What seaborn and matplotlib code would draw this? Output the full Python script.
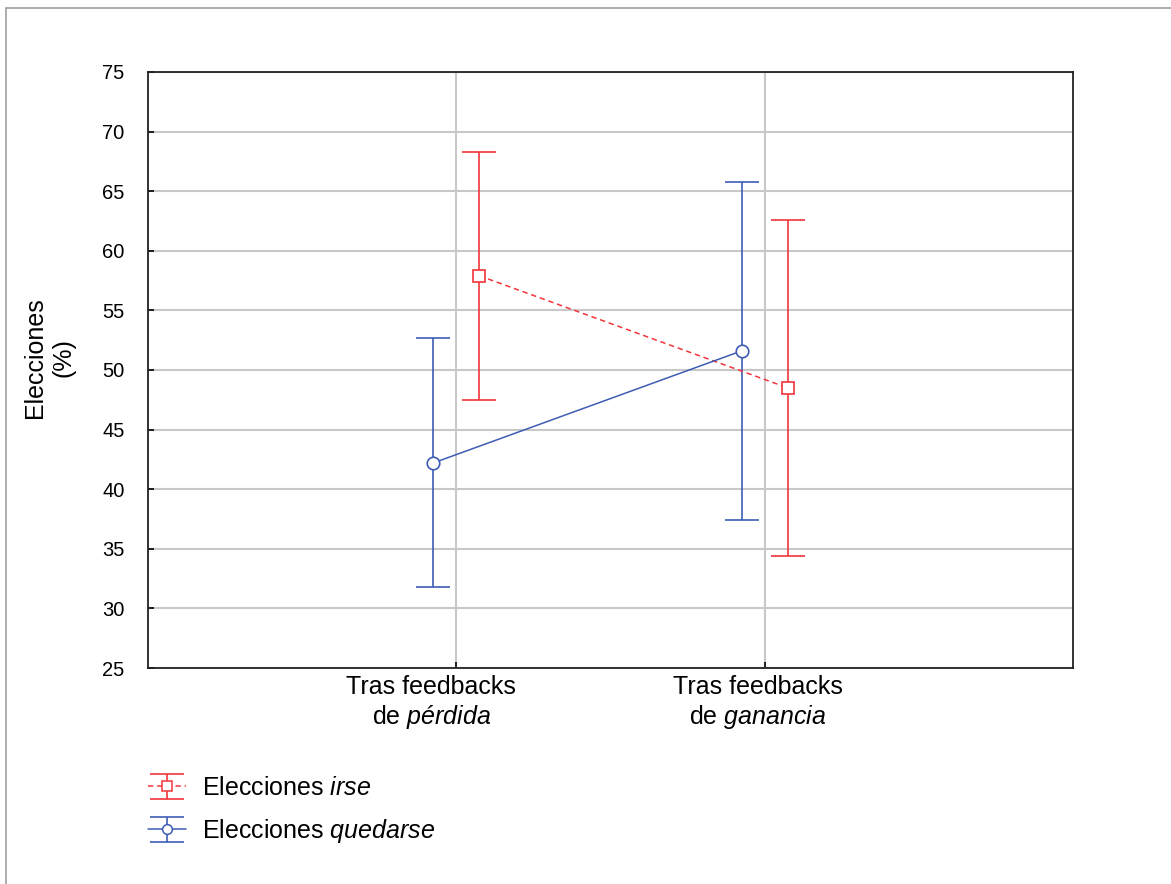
import matplotlib
matplotlib.use("Agg")
import matplotlib.pyplot as plt
import matplotlib.transforms as mtransforms
import seaborn as sns
import numpy as np
from matplotlib.lines import Line2D
from matplotlib.legend_handler import HandlerTuple

# ---- data ----
categories = ["Tras feedbacks\nde $\\mathit{pérdida}$", "Tras feedbacks\nde $\\mathit{ganancia}$"]
series_labels = ["Elecciones $\\mathit{irse}$", "Elecciones $\\mathit{quedarse}$"]
irse_mean = [57.9, 48.5]
irse_low = [47.5, 34.4]
irse_high = [68.3, 62.6]
quedarse_mean = [42.2, 51.6]
quedarse_low = [31.8, 37.4]
quedarse_high = [52.7, 65.8]
yticks = [25, 30, 35, 40, 45, 50, 55, 60, 65, 70, 75]

sns.set_style("white")
plt.rcParams["font.family"] = ["Liberation Sans", "DejaVu Sans"]
plt.rcParams["mathtext.fontset"] = "custom"
plt.rcParams["mathtext.rm"] = "Liberation Sans"
plt.rcParams["mathtext.it"] = "Liberation Sans:italic"
plt.rcParams["text.color"] = "black"

W, H = 1171, 884
fig = plt.figure(figsize=(W / 100, H / 100), dpi=100)
ax = fig.add_axes([148 / W, 1 - 668 / H, (1073 - 148) / W, (668 - 72) / H])

red = "#f2363b"
blue = "#3d5db4"
off = 0.075
xc = np.arange(len(categories))

handles = []
for mean, low, high, color, ls, mk, sign, lab in [
    (irse_mean, irse_low, irse_high, red, (0, (3.5, 2.5)), "s", +1, series_labels[0]),
    (quedarse_mean, quedarse_low, quedarse_high, blue, "-", "o", -1, series_labels[1]),
]:
    x = xc + sign * off
    mean = np.asarray(mean)
    yerr = np.vstack([mean - np.asarray(low), np.asarray(high) - mean])
    eb = ax.errorbar(x, mean, yerr=yerr, fmt="none", ecolor=color, elinewidth=1.2,
                     capsize=12, capthick=1.2, zorder=3)
    sns.lineplot(x=x, y=mean, ax=ax, color=color, linestyle=ls, linewidth=1.1,
                 marker=mk, markersize=9, markerfacecolor="white",
                 markeredgecolor=color, markeredgewidth=1.2, zorder=4, legend=False)
    proxy = Line2D([], [], color=color, linestyle=ls, linewidth=1.1, marker=mk,
                   markersize=7, markerfacecolor="white", markeredgecolor=color,
                   markeredgewidth=1.1)
    handles.append(((eb, proxy), lab))

ax.set_xlim(-1, 2)
ax.set_ylim(25, 75)
ax.set_yticks(yticks)
ax.set_xticks(xc)
ax.set_xticklabels(categories, fontsize=18, linespacing=1.2)
ax.tick_params(axis="y", labelsize=14.5, direction="in", length=4, width=1.2,
               pad=17, left=True, colors="black")
ax.tick_params(axis="x", direction="in", length=4, width=1.2, pad=5, bottom=True,
               colors="black")
# the reference places the category labels slightly left of their grid lines
for lbl, dx in zip(ax.get_xticklabels(), [-25, -7]):
    lbl.set_transform(lbl.get_transform() +
                      mtransforms.ScaledTranslation(dx / 100, 0, fig.dpi_scale_trans))
ax.grid(True, color="#c8c8c8", linewidth=1.5, zorder=0)
ax.set_axisbelow(True)
for s in ax.spines.values():
    s.set_color("#222222")
    s.set_linewidth(1.3)
ax.set_xlabel("")
ax.set_ylabel("")

fig.text(49 / W, 1 - 358 / H, "Elecciones\n(%)", rotation=90, ha="center", va="center",
         multialignment="center", fontsize=18, linespacing=1.25, color="black")

leg = fig.legend([h for h, _ in handles], [l for _, l in handles],
                 handler_map={tuple: HandlerTuple(ndivide=1)},
                 loc="upper left", bbox_to_anchor=(148 / W, 1 - 776 / H),
                 frameon=False, fontsize=18, handlelength=1.5, handletextpad=0.65,
                 labelspacing=0.67, borderpad=0, borderaxespad=0, labelcolor="black")

# outer border (top and left edges)
fig.add_artist(Line2D([6 / W, 1.0], [1 - 8 / H, 1 - 8 / H], transform=fig.transFigure,
                      color="#a0a0a0", linewidth=1.2))
fig.add_artist(Line2D([6 / W, 6 / W], [0, 1 - 8 / H], transform=fig.transFigure,
                      color="#a0a0a0", linewidth=1.2))

fig.savefig("out.png", dpi=100, facecolor="white")
